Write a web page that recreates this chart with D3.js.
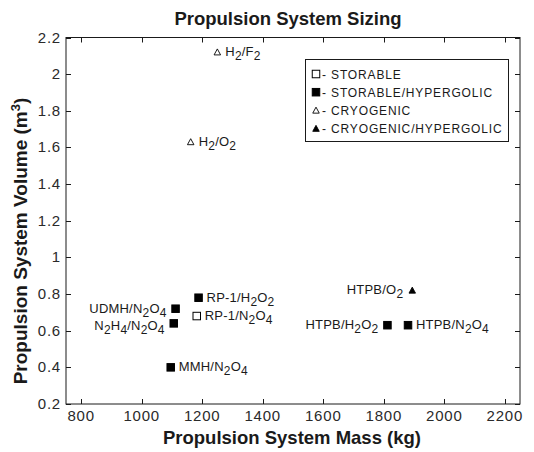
<!DOCTYPE html>
<html>
<head>
<meta charset="utf-8">
<script src="https://cdn.jsdelivr.net/npm/d3@7"></script>
<style>
  html, body { margin: 0; padding: 0; background: #fff; }
  svg { display: block; font-family: "Liberation Sans", Arial, sans-serif; }
</style>
</head>
<body>
<svg id="chart" width="534" height="452"></svg>
<script>
// Propellant combinations: mass (kg) vs. volume (m^3)
const propellants = ["H_2/F_2", "H_2/O_2", "UDMH/N_2O_4", "N_2H_4/N_2O_4", "RP-1/H_2O_2",
                     "RP-1/N_2O_4", "MMH/N_2O_4", "HTPB/O_2", "HTPB/H_2O_2", "HTPB/N_2O_4"];
const massKg   = [1250, 1162, 1112, 1106, 1188, 1182, 1096, 1894, 1812, 1880];
const volumeM3 = [2.12, 1.63, 0.72, 0.64, 0.78, 0.68, 0.40, 0.82, 0.63, 0.63];
const propClass = ["CRYOGENIC", "CRYOGENIC", "STORABLE/HYPERGOLIC", "STORABLE/HYPERGOLIC",
                   "STORABLE/HYPERGOLIC", "STORABLE", "STORABLE/HYPERGOLIC",
                   "CRYOGENIC/HYPERGOLIC", "STORABLE/HYPERGOLIC", "STORABLE/HYPERGOLIC"];
const classes = ["STORABLE", "STORABLE/HYPERGOLIC", "CRYOGENIC", "CRYOGENIC/HYPERGOLIC"];
const xTicks = [800, 1000, 1200, 1400, 1600, 1800, 2000, 2200];
const yTicks = [0.2, 0.4, 0.6, 0.8, 1, 1.2, 1.4, 1.6, 1.8, 2, 2.2];

// label placement: which side of the marker, and a vertical nudge
const labelSide = ["right", "right", "left", "left", "right", "right", "right", "left", "left", "right"];
const labelDy   = [4, 4, 4, 7, 4, 4, 4, 4, 4, 4];

const svg = d3.select("#chart");
const plot = { left: 66, right: 520, top: 37.5, bottom: 404 };

const x = d3.scaleLinear().domain([750, 2250]).range([plot.left, plot.right]);
const y = d3.scaleLinear().domain([0.2, 2.2]).range([plot.bottom, plot.top]);

const ink = "#1a1a1a";
const tickLen = 5;

// axes box
svg.append("rect")
  .attr("x", plot.left).attr("y", plot.top)
  .attr("width", plot.right - plot.left).attr("height", plot.bottom - plot.top)
  .attr("fill", "none").attr("stroke", ink).attr("stroke-width", 1);

// inward ticks on all four sides
const g = svg.append("g");
xTicks.forEach(v => {
  const px = Math.round(x(v)) + 0.5;
  g.append("line").attr("x1", px).attr("x2", px).attr("y1", plot.bottom).attr("y2", plot.bottom - tickLen).attr("stroke", ink);
  g.append("line").attr("x1", px).attr("x2", px).attr("y1", plot.top).attr("y2", plot.top + tickLen).attr("stroke", ink);
});
yTicks.forEach(v => {
  const py = Math.round(y(v)) + 0.5;
  g.append("line").attr("x1", plot.left).attr("x2", plot.left + tickLen).attr("y1", py).attr("y2", py).attr("stroke", ink);
  g.append("line").attr("x1", plot.right).attr("x2", plot.right - tickLen).attr("y1", py).attr("y2", py).attr("stroke", ink);
});

// tick labels
svg.append("g").selectAll("text").data(xTicks).join("text")
  .attr("x", d => x(d)).attr("y", plot.bottom + 17)
  .attr("text-anchor", "middle")
  .attr("font-size", 15).attr("letter-spacing", 0.8).attr("fill", "#2a2a2a")
  .text(d => d);
svg.append("g").selectAll("text").data(yTicks).join("text")
  .attr("x", plot.left - 5).attr("y", d => y(d) + 5)
  .attr("text-anchor", "end")
  .attr("font-size", 15).attr("letter-spacing", 0.8).attr("fill", "#2a2a2a")
  .text(d => d3.format("")(d));

// title and axis titles
svg.append("text").attr("x", 288).attr("y", 25).attr("text-anchor", "middle")
  .attr("font-size", 18.5).attr("font-weight", "bold").attr("fill", ink)
  .text("Propulsion System Sizing");
svg.append("text").attr("x", 292).attr("y", 444).attr("text-anchor", "middle")
  .attr("font-size", 18.5).attr("font-weight", "bold").attr("fill", ink)
  .text("Propulsion System Mass (kg)");
const yl = svg.append("text")
  .attr("transform", "translate(27," + 241 + ") rotate(-90)")
  .attr("text-anchor", "middle")
  .attr("font-size", 19).attr("font-weight", "bold").attr("fill", ink);
yl.append("tspan").text("Propulsion System Volume (m");
yl.append("tspan").attr("dy", -7).attr("font-size", 13).text("3");
yl.append("tspan").attr("dy", 7).text(")");

// marker shapes per propellant class
function drawMarker(sel, cls, cx, cy) {
  if (cls === "STORABLE" || cls === "STORABLE/HYPERGOLIC") {
    const s = 7.5;
    sel.append("rect").attr("x", cx - s / 2).attr("y", cy - s / 2).attr("width", s).attr("height", s)
      .attr("fill", cls === "STORABLE" ? "#fff" : "#000")
      .attr("stroke", "#000").attr("stroke-width", 1);
  } else {
    const h = 5.5, w = 6.5;
    sel.append("path")
      .attr("d", `M${cx},${cy - h / 2 - 0.5}L${cx + w / 2},${cy + h / 2}L${cx - w / 2},${cy + h / 2}Z`)
      .attr("fill", cls === "CRYOGENIC" ? "#fff" : "#000")
      .attr("stroke", "#000").attr("stroke-width", 0.9);
  }
}

// text with "_" marking a one-character subscript
function richText(sel, str, size) {
  let lowered = false;
  for (let i = 0; i < str.length; i++) {
    if (str[i] === "_") {
      sel.append("tspan").attr("dy", 4).attr("font-size", size - 1).text(str[i + 1]);
      lowered = true;
      i++;
    } else {
      let run = "";
      while (i < str.length && str[i] !== "_") { run += str[i]; i++; }
      i--;
      const t = sel.append("tspan").text(run);
      if (lowered) { t.attr("dy", -4); lowered = false; }
    }
  }
}

// data points and their labels
const pts = svg.append("g");
propellants.forEach((name, i) => {
  const cx = x(massKg[i]), cy = y(volumeM3[i]);
  drawMarker(pts, propClass[i], cx, cy);
  const right = labelSide[i] === "right";
  const t = pts.append("text")
    .attr("x", right ? cx + 8 : cx - 9)
    .attr("y", cy + labelDy[i])
    .attr("text-anchor", right ? "start" : "end")
    .attr("font-size", 13).attr("letter-spacing", 0.2).attr("fill", ink);
  richText(t, name, 13);
});

// legend
const lg = svg.append("g");
const lgBox = { x: 305, y: 59, w: 203, h: 82 };
lg.append("rect").attr("x", lgBox.x + 0.5).attr("y", lgBox.y + 0.5)
  .attr("width", lgBox.w).attr("height", lgBox.h)
  .attr("fill", "#fff").attr("stroke", ink);
classes.forEach((c, i) => {
  const cy = lgBox.y + 15 + i * 18.2;
  drawMarker(lg, c, lgBox.x + 11, cy);
  lg.append("text").attr("x", lgBox.x + 17).attr("y", cy + 4.5)
    .attr("font-size", 12).attr("letter-spacing", 0.85).attr("fill", ink)
    .text("- " + c);
});
</script>
</body>
</html>
